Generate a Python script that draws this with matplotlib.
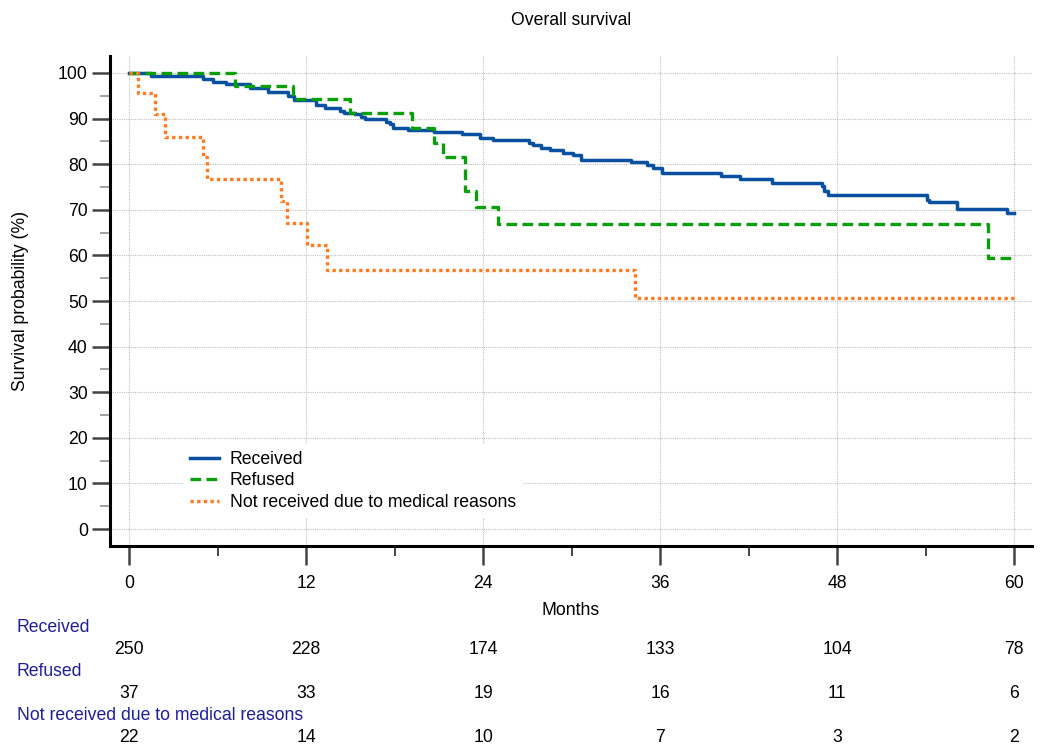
import matplotlib
matplotlib.use("Agg")
import matplotlib.pyplot as plt
from matplotlib.transforms import blended_transform_factory
from matplotlib.ticker import MultipleLocator

plt.rcParams['font.family'] = ['Liberation Sans', 'DejaVu Sans']

# ---- data ----
received_t = [0, 1.5, 5.0, 5.7, 6.6, 8.2, 9.4, 10.8, 11.2, 12.7, 13.3, 14.3, 14.6, 15.3, 15.7,
              16.0, 17.4, 17.7, 17.9, 18.9, 20.7, 22.6, 23.8, 24.7, 27.1, 27.4, 27.9, 28.5,
              29.4, 30.1, 30.6, 34.0, 35.1, 35.5, 36.1, 40.1, 41.4, 43.6, 47.0, 47.1, 47.4,
              54.1, 54.2, 56.1, 59.5, 60]
received_s = [100, 99.3, 98.7, 97.9, 97.5, 96.7, 95.7, 94.9, 94.0, 93.0, 92.3, 91.7, 91.3, 91.0,
              90.4, 89.8, 89.3, 88.7, 87.9, 87.5, 87.1, 86.6, 85.8, 85.2, 84.6, 84.1, 83.6,
              83.0, 82.5, 82.0, 80.9, 80.4, 79.8, 79.1, 78.0, 77.3, 76.7, 75.9, 75.1, 74.2,
              73.2, 72.2, 71.6, 70.1, 69.2, 69.2]

refused_t = [0, 7.2, 11.1, 15.0, 19.2, 20.7, 21.3, 22.8, 23.5, 25.0, 58.2, 60]
refused_s = [100, 97.2, 94.3, 91.1, 88.0, 84.7, 81.6, 74.1, 70.5, 66.8, 59.4, 59.4]

notrec_t = [0, 0.6, 1.75, 2.45, 5.0, 5.3, 10.3, 10.7, 12.05, 13.4, 34.3, 60]
notrec_s = [100, 95.5, 91.0, 86.0, 81.5, 76.7, 71.9, 67.2, 62.3, 56.9, 50.7, 50.7]

group_names = ["Received", "Refused", "Not received due to medical reasons"]
risk_times = [0, 12, 24, 36, 48, 60]
risk_received = [250, 228, 174, 133, 104, 78]
risk_refused = [37, 33, 19, 16, 11, 6]
risk_notrec = [22, 14, 10, 7, 3, 2]

# ---- figure ----
W, H = 1048, 749
fig = plt.figure(figsize=(W / 100, H / 100), dpi=100)
ax = fig.add_axes([110 / W, 1 - 546 / H, (1032 - 110) / W, (546 - 56) / H])

FS = 12.7
c_blue = '#0a50a0'
c_green = '#0a9e0a'
c_orange = '#ff7a1e'

l1, = ax.step(received_t, received_s, where='post', color=c_blue, lw=2.5, label=group_names[0])
l2, = ax.step(refused_t, refused_s, where='post', color=c_green, lw=2.4, label=group_names[1])
l2.set_dashes((3.2, 1.6))
l3, = ax.step(notrec_t, notrec_s, where='post', color=c_orange, lw=2.4, label=group_names[2])
l3.set_dashes((1.0, 1.0))

ax.set_xlim(-1.29, 61.2)
ax.set_ylim(-3.7, 103.7)

ax.xaxis.set_major_locator(MultipleLocator(12))
ax.xaxis.set_minor_locator(MultipleLocator(6))
ax.yaxis.set_major_locator(MultipleLocator(10))
ax.yaxis.set_minor_locator(MultipleLocator(5))

ax.grid(True, which='major', color='#c0c0c0', linestyle=(0, (1, 1)), lw=0.8)
ax.set_axisbelow(True)

for s in ['top', 'right']:
    ax.spines[s].set_visible(False)
for s in ['left', 'bottom']:
    ax.spines[s].set_linewidth(2.2)
    ax.spines[s].set_color('black')

ax.tick_params(axis='y', which='major', length=13, width=1.8, color='#444444', pad=3, labelsize=FS)
ax.tick_params(axis='y', which='minor', length=7, width=1.4, color='#a0a0a0')
ax.tick_params(axis='x', which='major', length=14, width=1.8, color='#444444', pad=7, labelsize=FS)
ax.tick_params(axis='x', which='minor', length=7, width=1.4, color='#444444')

ax.set_title("Overall survival", fontsize=FS, pad=22)
ax.set_xlabel("Months", fontsize=FS, labelpad=7)
ax.set_ylabel("Survival probability (%)", fontsize=FS)
ax.yaxis.set_label_coords(-81 / (1032 - 110), 0.5)

leg = ax.legend(handles=[l1, l2, l3], loc='upper left', bbox_to_anchor=(64 / 922, 111 / 490),
                frameon=True, facecolor='white', edgecolor='none', framealpha=1,
                fontsize=FS, handlelength=1.65, handletextpad=0.6, labelspacing=0.25,
                borderpad=0.4, fancybox=False)

# ---- risk table ----
tr = blended_transform_factory(ax.transData, fig.transFigure)
label_color = '#1e1e9c'
rows = [(group_names[0], risk_received, 628, 650),
        (group_names[1], risk_refused, 672, 694),
        (group_names[2], risk_notrec, 716, 738)]
for name, vals, ly, ny in rows:
    fig.text(17 / W, 1 - ly / H, name, color=label_color, fontsize=FS, ha='left', va='center')
    for t, v in zip(risk_times, vals):
        ax.text(t, 1 - ny / H, str(v), transform=tr, fontsize=FS, ha='center', va='center',
                color='black')

fig.savefig("out.png", dpi=100)
